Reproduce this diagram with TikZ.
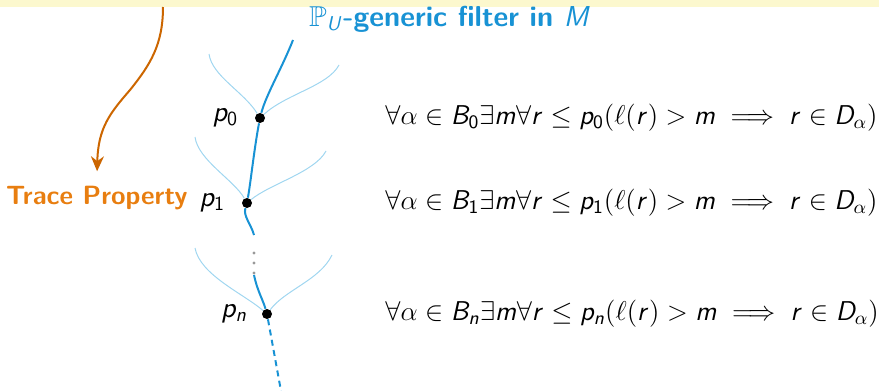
\RequirePackage{fix-cm}
\documentclass[tikz,border=0pt]{standalone}
\usepackage{amsmath,amssymb}
\usetikzlibrary{arrows.meta,positioning}
% sans serif letters and digits in math, as on the slide
\DeclareSymbolFont{sfit}{OT1}{cmss}{m}{sl}
\DeclareSymbolFont{sfup}{OT1}{cmss}{m}{n}
\DeclareMathSymbol{B}{\mathalpha}{sfit}{`B}
\DeclareMathSymbol{D}{\mathalpha}{sfit}{`D}
\DeclareMathSymbol{M}{\mathalpha}{sfit}{`M}
\DeclareMathSymbol{U}{\mathalpha}{sfit}{`U}
\DeclareMathSymbol{m}{\mathalpha}{sfit}{`m}
\DeclareMathSymbol{n}{\mathalpha}{sfit}{`n}
\DeclareMathSymbol{p}{\mathalpha}{sfit}{`p}
\DeclareMathSymbol{r}{\mathalpha}{sfit}{`r}
\DeclareMathSymbol{0}{\mathalpha}{sfup}{`0}
\DeclareMathSymbol{1}{\mathalpha}{sfup}{`1}
\definecolor{tblue}{RGB}{24,146,212}
\definecolor{tlight}{RGB}{160,214,240}
\definecolor{torange}{RGB}{232,126,16}
\definecolor{tarrow}{RGB}{204,102,0}
\definecolor{tyellow}{RGB}{252,248,206}
\tikzset{
  dot/.style={circle,fill=black,inner sep=0pt,minimum size=5pt},
  plab/.style={inner sep=0pt,font=\fontsize{14.4}{18}\selectfont\sffamily},
  cond/.style={anchor=west,inner sep=0pt,font=\fontsize{13.6}{17}\selectfont\sffamily},
  stem/.style={draw=tblue,line width=1pt},
  twig/.style={draw=tlight,line width=0.5pt},
  flow/.style={draw=tarrow,line width=1pt,-{Stealth[length=7.5pt,width=6.5pt]},shorten >=7pt},
}
\newcommand{\cond}[1]{\node[cond] (c#1) at (fx |- p#1) {$\forall\alpha\in B_#1\exists m\forall r\leq p_#1(\ell(r)>m\implies r\in D_\alpha)$};}
\newcommand{\plab}[2]{\node[plab,left=#2 of p#1] (l#1) {$p_#1$};}

\begin{document}
\begin{tikzpicture}[x=0.5pt,y=-0.5pt,font=\fontsize{13.2}{16}\selectfont\sffamily]
\useasboundingbox (0,0) rectangle (879,391);
% ---- block edge
\fill[tyellow] (0,0) rectangle (879,7);

% ---- conditions on the filter
\node[dot] (p0) at (260,118) {};
\node[dot] (p1) at (247,203) {};
\node[dot] (pn) at (267,314) {};
\coordinate (s0) at (293,40);
\coordinate (s1) at (254,235);
\coordinate (s2) at (254,275);
\coordinate (s3) at (281,391);

% ---- side branches
\draw[twig] (209,54) .. controls (212,76) and (244,92) .. (p0);
\draw[twig] (339,65) .. controls (328,86) and (286,94) .. (p0);
\draw[twig] (195,137) .. controls (198,160) and (234,180) .. (p1);
\draw[twig] (326,151) .. controls (315,172) and (270,184) .. (p1);
\draw[twig] (195,248) .. controls (200,275) and (244,294) .. (pn);
\draw[twig] (332,255) .. controls (320,280) and (285,290) .. (pn);

% ---- the generic filter
\draw[stem] (s0) .. controls (282,68) and (266,95) .. (p0)
  .. controls (254,150) and (251,180) .. (p1)
  .. controls (243,216) and (251,224) .. (s1);
\foreach \y in {253,263,273}
  \fill[gray!80] (254,\y) circle (0.8pt);
\draw[stem] (s2) .. controls (257,290) and (263,300) .. (pn);
\draw[stem,dash pattern=on 3pt off 2.2pt] (pn) -- (s3);

% ---- labels
\plab{0}{8pt}
\plab{1}{8pt}
\plab{n}{7pt}
\node[anchor=west,text=tblue,font=\fontsize{14.4}{18}\selectfont\sffamily\bfseries] (ttl) at (302,19) {$\mathbb{P}_U$-generic filter in $M$};
\node[anchor=base east,inner sep=0pt,text=torange,font=\fontsize{13.2}{16}\selectfont\sffamily\bfseries] (tr) at (188,204) {Trace Property};
\coordinate (a0) at (163,7);
\draw[flow] (a0) .. controls (163,45) and (150,65) .. (130,90)
  .. controls (110,113) and (98,128) .. (tr.north);

% ---- formulas
\coordinate (fx) at (385,0);
\cond{0}
\cond{1}
\cond{n}
\end{tikzpicture}
\end{document}
